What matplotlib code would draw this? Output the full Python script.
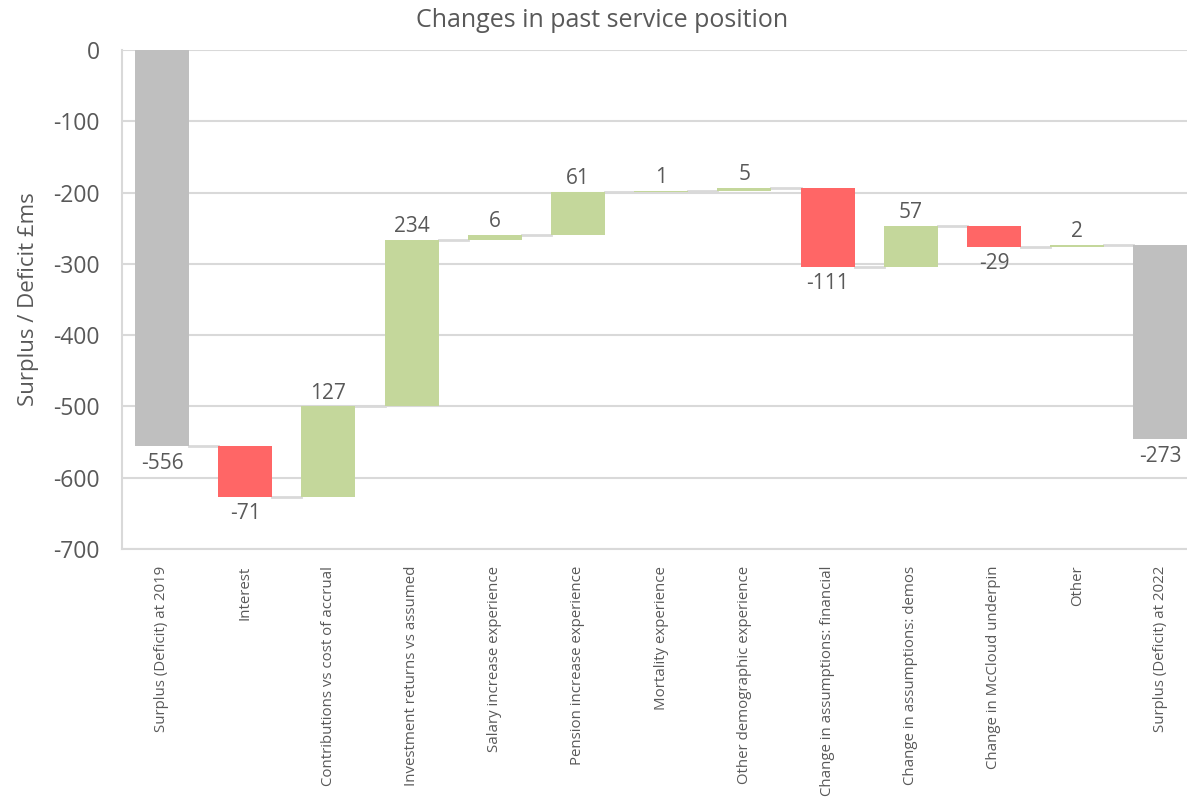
import numpy as np
import matplotlib
matplotlib.use("Agg")
import matplotlib.pyplot as plt

plt.rcParams['font.family'] = ['Open Sans', 'DejaVu Sans']
plt.rcParams['axes.unicode_minus'] = False

categories = [
    'Surplus (Deficit) at 2019', 'Interest', 'Contributions vs cost of accrual',
    'Investment returns vs assumed', 'Salary increase experience',
    'Pension increase experience', 'Mortality experience',
    'Other demographic experience', 'Change in assumptions: financial',
    'Change in assumptions: demos', 'Change in McCloud underpin', 'Other',
    'Surplus (Deficit) at 2022',
]
# first value is the opening position, then the movements
changes = [-556, -71, 127, 234, 6, 61, 1, 5, -111, 57, -29, 2]
closing = -273

text_col = '#595959'
grey = '#BFBFBF'
red = '#FF6666'
green = '#C4D79B'
line_col = '#D9D9D9'

fig = plt.figure(figsize=(11.87, 8.01), dpi=100)
ax = fig.add_axes([0.1028, 0.3146, 0.8972, 0.623])

width = 0.65
x = np.arange(len(categories))

running = np.cumsum(changes)
bottoms = np.concatenate([[0], running[:-1]])

# opening bar
ax.bar(x[0], changes[0], width, bottom=0, color=grey, zorder=3)
for i in range(1, len(changes)):
    col = green if changes[i] >= 0 else red
    ax.bar(x[i], changes[i], width, bottom=bottoms[i], color=col, zorder=3)
# closing bar (drawn as in the original chart)
ax.bar(x[-1], closing, width, bottom=closing, color=grey, zorder=3)

# connector lines
levels = list(running) + [closing]
for i in range(len(categories) - 1):
    ax.plot([x[i] + width / 2, x[i + 1] - width / 2], [levels[i], levels[i]],
            color=line_col, lw=2, zorder=2)

# data labels
fs = 15
neg_off = 9
ax.text(x[0], changes[0] - neg_off, '-556', ha='center', va='top', fontsize=fs,
        color=text_col)
for i in range(1, len(changes)):
    if changes[i] >= 0:
        ax.text(x[i], running[i] + 4, f'{changes[i]}', ha='center',
                va='bottom', fontsize=fs, color=text_col)
    else:
        ax.text(x[i], running[i] - neg_off, f'{changes[i]}', ha='center',
                va='top', fontsize=fs, color=text_col)
ax.text(x[-1], 2 * closing - neg_off, f'{closing}', ha='center', va='top',
        fontsize=fs, color=text_col)

ax.set_ylim(-700, 0)
ax.set_xlim(-0.48, 12.32)
ax.set_yticks(np.arange(-700, 1, 100))
ax.yaxis.grid(True, color=line_col, lw=1.5, zorder=0)
ax.set_axisbelow(True)
ax.set_xticks(x)
ax.set_xticklabels(categories, rotation=90, fontsize=10.8, color=text_col)
ax.tick_params(axis='y', labelsize=16.5, colors=text_col, length=0, pad=16)
ax.tick_params(axis='x', length=0, pad=12)
for s in ['top', 'right']:
    ax.spines[s].set_visible(False)
for s in ['left', 'bottom']:
    ax.spines[s].set_color(line_col)
    ax.spines[s].set_linewidth(1.5)

ax.set_ylabel('Surplus / Deficit £ms', fontsize=16, color=text_col, labelpad=10)
fig.text(0.507, 0.974, 'Changes in past service position', ha='center',
         va='center', fontsize=18, color=text_col)

fig.savefig('out.png', dpi=100)
